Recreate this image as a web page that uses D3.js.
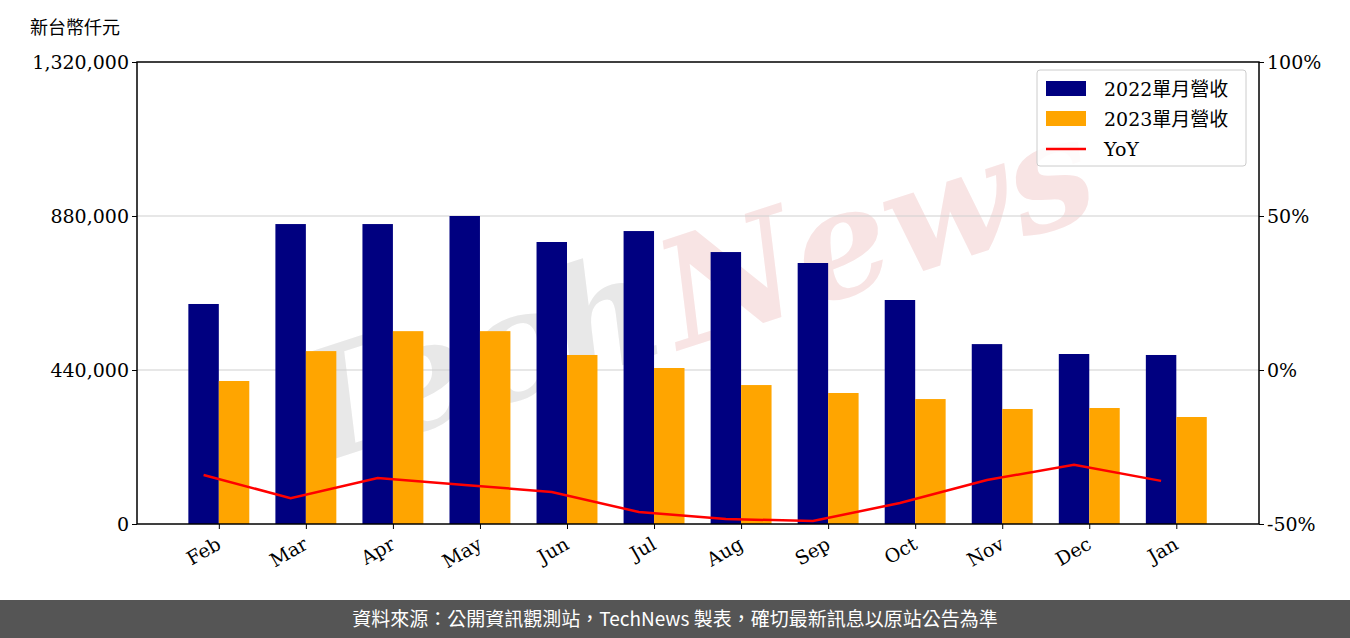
<!DOCTYPE html>
<html lang="zh-Hant">
<head>
<meta charset="UTF-8">
<script src="https://d3js.org/d3.v7.min.js"></script>
<style>
  body { margin: 0; background: #fff; }
  svg text { font-family: "DejaVu Serif", serif; }
</style>
</head>
<body>
<svg id="chart" width="1350" height="638"></svg>
<script>
const months = ["Feb", "Mar", "Apr", "May", "Jun", "Jul", "Aug", "Sep", "Oct", "Nov", "Dec", "Jan"];
const rev2022 = [628600, 857000, 857000, 880000, 805700, 837000, 777000, 745700, 640000, 514000, 485700, 482900];
const rev2023 = [408600, 494000, 551000, 551000, 482900, 445700, 397000, 374300, 357000, 328600, 331400, 305700];
const yoy = [-34.1, -41.6, -35.1, -37.3, -39.6, -46.1, -48.4, -49.0, -43.2, -35.7, -30.8, -36.0];
const leftTicks = [0, 440000, 880000, 1320000];
const rightTicks = [-50, 0, 50, 100];

const svg = d3.select("#chart");
const pL = 137, pR = 1259, pT = 62, pB = 524;

const x = d3.scaleLinear().domain([-0.94, 11.95]).range([pL, pR]);
const y = d3.scaleLinear().domain([0, 1320000]).range([pB, pT]);
const y2 = d3.scaleLinear().domain([-50, 100]).range([pB, pT]);
const bw = x(0.35) - x(0);

// watermark
const wm = svg.append("g");
wm.append("text")
  .attr("transform", "translate(300,470) rotate(-18)")
  .style("font-family", "'DejaVu Serif', serif").style("font-style", "italic")
  .style("font-size", "150px").style("font-weight", "bold")
  .attr("fill", "#e8e8e8").text("Tech");
wm.append("text")
  .attr("transform", "translate(680,350) rotate(-18)")
  .style("font-family", "'DejaVu Serif', serif").style("font-style", "italic")
  .style("font-size", "150px").style("font-weight", "bold")
  .attr("fill", "#f8e4e4").text("News");

// grid
svg.append("g").selectAll("line").data(leftTicks.slice(1, 3)).join("line")
  .attr("x1", pL).attr("x2", pR)
  .attr("y1", d => y(d)).attr("y2", d => y(d))
  .attr("stroke", "#cfcfcf").attr("stroke-width", 1.2);

const g = svg.append("g");
g.selectAll(".b22").data(rev2022).join("rect")
  .attr("x", (d, i) => x(i) - bw).attr("width", bw)
  .attr("y", d => y(d)).attr("height", d => pB - y(d))
  .attr("fill", "#000080");
g.selectAll(".b23").data(rev2023).join("rect")
  .attr("x", (d, i) => x(i)).attr("width", bw)
  .attr("y", d => y(d)).attr("height", d => pB - y(d))
  .attr("fill", "#ffa500");

svg.append("path")
  .datum(yoy)
  .attr("d", d3.line().x((d, i) => x(i) - bw / 2).y(d => y2(d)))
  .attr("fill", "none").attr("stroke", "#ff0000").attr("stroke-width", 2.5);

// frame
svg.append("rect").attr("x", pL).attr("y", pT)
  .attr("width", pR - pL).attr("height", pB - pT)
  .attr("fill", "none").attr("stroke", "#000").attr("stroke-width", 1.5);

// axes
const fmt = d3.format(",");
const ax = svg.append("g").attr("transform", `translate(${pL},0)`)
  .call(d3.axisLeft(y).tickValues(leftTicks).tickFormat(fmt).tickSize(5));
const ax2 = svg.append("g").attr("transform", `translate(${pR},0)`)
  .call(d3.axisRight(y2).tickValues(rightTicks).tickFormat(d => d + "%").tickSize(5));
const axb = svg.append("g").attr("transform", `translate(0,${pB})`)
  .call(d3.axisBottom(x).tickValues(d3.range(12)).tickFormat(i => months[i]).tickSize(5));
[ax, ax2, axb].forEach(a => {
  a.select(".domain").remove();
  a.selectAll("text").style("font-size", "19px").attr("fill", "#000");
});
axb.selectAll("text")
  .attr("text-anchor", "end").attr("dy", "0.3em")
  .attr("transform", "translate(-4,12) rotate(-30)");

svg.append("text").attr("x", 30).attr("y", 34)
  .style("font-family", "'Noto Sans CJK TC', sans-serif").style("font-size", "18px")
  .text("新台幣仟元");

// legend
const lg = svg.append("g").attr("transform", "translate(1037,70)");
lg.append("rect").attr("width", 209).attr("height", 96).attr("rx", 3)
  .attr("fill", "#fff").attr("fill-opacity", 0.85).attr("stroke", "#ccc");
const items = [["2022單月營收", "#000080", "bar"], ["2023單月營收", "#ffa500", "bar"], ["YoY", "#ff0000", "line"]];
items.forEach((it, i) => {
  const cy = 19 + i * 30;
  if (it[2] === "bar") lg.append("rect").attr("x", 9).attr("y", cy - 8).attr("width", 40).attr("height", 15).attr("fill", it[1]);
  else lg.append("line").attr("x1", 9).attr("x2", 49).attr("y1", cy).attr("y2", cy).attr("stroke", it[1]).attr("stroke-width", 2.5);
  lg.append("text").attr("x", 67).attr("y", cy + 7).style("font-size", "19px")
    .style("font-family", "'DejaVu Serif', 'Noto Sans CJK TC', serif").text(it[0]);
});

// footer
svg.append("rect").attr("x", 0).attr("y", 600).attr("width", 1350).attr("height", 38).attr("fill", "#555");
svg.append("text").attr("x", 675).attr("y", 626).attr("text-anchor", "middle")
  .style("font-family", "'Noto Sans CJK TC', sans-serif").style("font-size", "19px")
  .attr("fill", "#fff")
  .text("資料來源：公開資訊觀測站，TechNews 製表，確切最新訊息以原站公告為準");
</script>
</body>
</html>
